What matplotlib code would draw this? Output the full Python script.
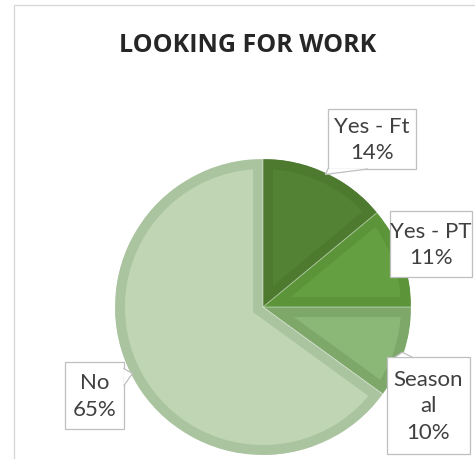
import numpy as np
import matplotlib.pyplot as plt
from matplotlib.patches import Rectangle, Polygon

categories = ["Yes - Ft", "Yes - PT", "Seasonal", "No"]
values = [14, 11, 10, 65]
label_text = ["Yes - Ft", "Yes - PT", "Season\nal", "No"]

fill_colors = ["#548235", "#64a042", "#8cb877", "#c0d5b4"]
edge_colors = ["#4d7a2f", "#5b9439", "#7ea86a", "#abc4a0"]

# label boxes: centre and size in px (y measured from top), callout side + base span
box_centers = [(372, 140), (431, 245), (428.5, 406.5), (94.5, 396.5)]
box_sizes = [(88, 60), (82, 66), (83, 97), (59, 67)]
callouts = [("bottom", 0.0, 0.45), None, ("top", 0.1, 0.3), ("right", 0.1, 0.35)]

W, H = 475, 460
cx, cy, R = 263, 308, 148  # pie centre and radius in px


def px(x, y):
    return (x - cx) / R, (cy - y) / R


fig = plt.figure(figsize=(W / 100, H / 100), dpi=100)
ax = fig.add_axes([0, 0, 1, 1])

wedges, _ = ax.pie(values, colors=fill_colors, startangle=90,
                   counterclock=False, radius=1)
for w, ec in zip(wedges, edge_colors):
    # thick edge clipped to the wedge itself -> inner border band
    w.set_edgecolor(ec)
    w.set_linewidth(14.4)
    w.set_clip_path(w)
    w.set_clip_on(True)
for w in wedges:
    ax.add_patch(Polygon(w.get_path().vertices, closed=True, fill=False,
                         ec="white", lw=0.7, alpha=0.25))

ax.set_xlim(-cx / R, (W - cx) / R)
ax.set_ylim(-(H - cy) / R, cy / R)
ax.set_aspect("auto")
ax.axis("off")

total = sum(values)
for w, lab, v, (bx, by), (bw, bh), co in zip(wedges, label_text, values,
                                              box_centers, box_sizes, callouts):
    x0, y0 = px(bx - bw / 2, by + bh / 2)
    x1, y1 = px(bx + bw / 2, by - bh / 2)
    ax.add_patch(Rectangle((x0, y0), x1 - x0, y1 - y0, fc="white",
                           ec="#bfbfbf", lw=0.9, zorder=3, clip_on=False))
    if co is not None:
        mid = np.deg2rad((w.theta1 + w.theta2) / 2)
        tip = (0.99 * np.cos(mid), 0.99 * np.sin(mid))
        side, f0, f1 = co
        if side == "bottom":
            b0 = (x0 + f0 * (x1 - x0), y0)
            b1 = (x0 + f1 * (x1 - x0), y0)
        elif side == "top":
            b0 = (x0 + f0 * (x1 - x0), y1)
            b1 = (x0 + f1 * (x1 - x0), y1)
        else:
            b0 = (x1, y1 - f0 * (y1 - y0))
            b1 = (x1, y1 - f1 * (y1 - y0))
        ax.add_patch(Polygon([b0, tip, b1], closed=True, fc="white",
                             ec="none", zorder=4, clip_on=False))
        ax.plot([b0[0], tip[0], b1[0]], [b0[1], tip[1], b1[1]],
                color="#bfbfbf", lw=0.9, zorder=5, clip_on=False)
    ax.text((x0 + x1) / 2, (y0 + y1) / 2, f"{lab}\n{v / total * 100:.0f}%",
            ha="center", va="center", multialignment="center",
            fontsize=16, family="Lato", color="#404040",
            linespacing=1.4, zorder=6)

fig.text(248 / W, 1 - 45 / H, "LOOKING FOR WORK", ha="center", va="center",
         fontsize=18, fontweight="bold", family="Open Sans", color="#262626")

fig.patches.append(Rectangle((14 / W, -0.1), 1.2, 1.1 - 6 / H,
                             transform=fig.transFigure, fill=False,
                             ec="#d9d9d9", lw=1.0))

fig.savefig("out.png", dpi=100)
